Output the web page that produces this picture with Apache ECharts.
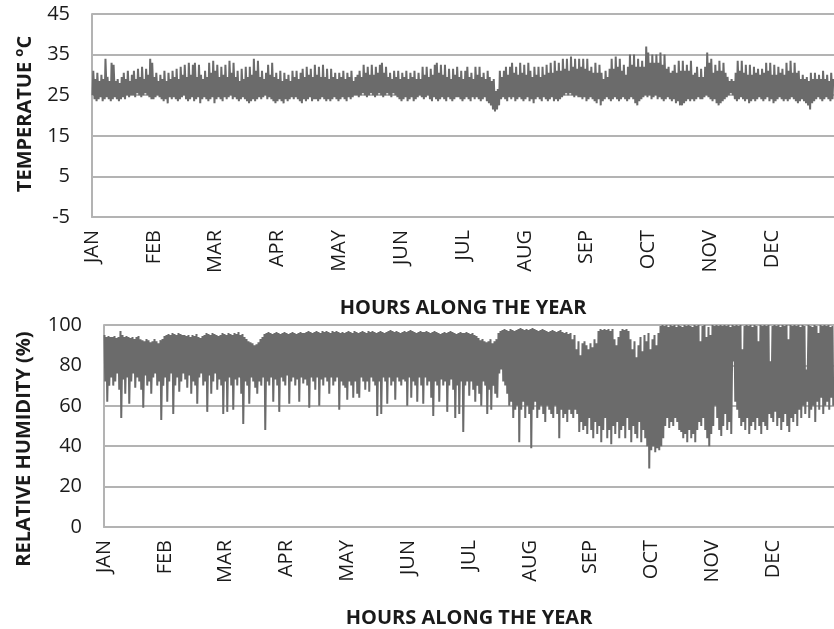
<!DOCTYPE html>
<html>
<head>
<meta charset="utf-8">
<script src="https://cdn.jsdelivr.net/npm/echarts@6/dist/echarts.min.js"></script>
<style>
  html, body { margin: 0; padding: 0; background: #ffffff; }
  #chart { width: 834px; height: 629px; }
</style>
</head>
<body>
<div id="chart"></div>
<script>
// Month tick labels, one every 730 hours
const months = ['JAN', 'FEB', 'MAR', 'APR', 'MAY', 'JUN', 'JUL', 'AUG', 'SEP', 'OCT', 'NOV', 'DEC'];

// Daily maximum air temperature (°C), day 1..365
const tempMax = [
  31, 29, 30.5, 28.5, 30, 29, 34, 29.5, 28.5, 33,
  32.5, 28.5, 29, 28, 29.5, 30.5, 29, 31, 28.5, 30,
  31, 29, 31.5, 29.5, 32, 29, 31.5, 30, 34, 33,
  29.5, 30.5, 28.5, 30, 29, 31, 28.5, 30.5, 29, 31,
  29.5, 31.5, 29, 32, 30, 32.5, 29.5, 33, 30, 32.5,
  33, 29.5, 32.5, 30, 29, 31, 29.5, 33, 30.5, 33.5,
  31, 32.5, 29.5, 32, 30, 32.5, 29.5, 33.5, 30.5, 33,
  29.5, 31, 28.5, 31.5, 29, 32, 29.5, 32, 30, 34,
  31, 33.5, 29.5, 31, 29, 30.5, 32.5, 30, 33, 29.5,
  30.5, 29, 31, 28.5, 30.5, 29, 30, 28.5, 31, 29.5,
  31, 29, 30.5, 31.5, 29.5, 32, 30, 31.5, 29.5, 32.5,
  30, 32, 29.5, 32.5, 29.5, 31.5, 29, 31.5, 29.5, 30.5,
  29, 30.5, 29.5, 31, 29, 30.5, 29.5, 31, 28.5, 29.5,
  30, 31, 29.5, 32.5, 30.5, 32, 30, 32.5, 30, 32,
  30.5, 32.5, 33, 30.5, 32, 29.5, 30.5, 29, 31, 29.5,
  31, 29, 30.5, 29.5, 31, 29, 30.5, 29.5, 31, 29,
  30.5, 29, 32, 30, 32, 29.5, 31.5, 30, 32.5, 33,
  30.5, 32.5, 30, 32.5, 29.5, 31.5, 29, 31.5, 30, 32,
  29.5, 31, 29, 31, 32, 29.5, 30.5, 29, 32, 30,
  32, 29.5, 30.5, 29, 31, 29.5, 28.5, 29, 26, 26.5,
  31, 29.5, 31, 32, 30, 32, 33, 30.5, 32, 30,
  33, 30.5, 32.5, 30, 33, 31, 29.5, 32, 30, 32,
  29.5, 32, 30, 32.5, 30.5, 33, 30.5, 33.5, 31, 33,
  31, 34, 31.5, 34, 31, 34.5, 32, 34, 31.5, 34,
  32, 34, 31.5, 34, 31, 32, 30.5, 33, 30.5, 32.5,
  30.5, 29, 31, 29.5, 31.5, 34, 31.5, 34.5, 32, 34,
  31, 32.5, 30, 32, 35, 32.5, 35, 32, 34, 32,
  33.5, 32, 37, 35.5, 33, 35, 33, 35, 33, 35.5,
  32.5, 35, 31.5, 32, 30.5, 31, 32.5, 30.5, 33.5, 31,
  33.5, 31, 32.5, 31, 33.5, 30, 30.5, 32, 29.5, 31.5,
  29.5, 32, 35.5, 33, 34, 30.5, 32.5, 31, 33.5, 31,
  33, 30.5, 29.5, 28.5, 29, 28.5, 30.5, 33.5, 31, 33.5,
  30.5, 32.5, 30, 32.5, 30, 32, 30.5, 31.5, 30, 31.5,
  30.5, 33, 31, 33, 30, 32.5, 30, 32, 30.5, 31.5,
  30, 33, 31, 33.5, 30.5, 33, 30.5, 31, 29, 30,
  29, 29.5, 28.5, 30.5, 29, 30.5, 29, 30, 29, 31,
  29, 30, 28.5, 30.5, 29
];

// Daily minimum air temperature (°C), day 1..365
const tempMin = [
  25, 24, 23.5, 24, 24.5, 23.5, 24, 24.5, 24, 23.5,
  24, 24.5, 24, 23.5, 24, 24.5, 24, 25, 24.5, 25,
  25, 24.5, 25.5, 25, 24.5, 25, 25.5, 25, 24.5, 24,
  24, 24.5, 25, 24.5, 24, 23.5, 24, 23, 24.5, 24,
  24.5, 24, 23.5, 24, 24.5, 25, 24, 23.5, 24, 24.5,
  23.5, 24, 24.5, 23, 24, 24.5, 24, 23.5, 24, 24.5,
  23, 24, 24.5, 24, 23.5, 24.5, 24, 24.5, 25, 24,
  24.5, 24, 23.5, 24, 24.5, 24, 23.5, 23, 23.5, 24,
  23.5, 24, 24.5, 24, 24.5, 25, 24, 24.5, 24, 23.5,
  23, 23.5, 24, 23.5, 23, 24, 23.5, 24, 24.5, 24,
  24.5, 24, 23.5, 23, 24, 23.5, 24, 24.5, 23.5, 24,
  24, 23.5, 24, 24.5, 24, 23.5, 24, 23.5, 24, 24.5,
  24, 23.5, 24, 24.5, 24, 23.5, 24.5, 24, 24.5, 25,
  25, 24.5, 25, 25.5, 25, 24.5, 25, 25.5, 25, 24.5,
  25, 25.5, 25, 24.5, 25, 25.5, 25, 24.5, 25.5, 25,
  24.5, 24, 23.5, 24, 24.5, 23.5, 24, 24.5, 23.5, 24,
  24.5, 25, 24.5, 24, 24.5, 25, 24, 23.5, 24.5, 24,
  23.5, 24, 24.5, 24, 23.5, 24.5, 24, 23.5, 24, 24.5,
  24.5, 24, 23.5, 24, 24.5, 24, 23.5, 24.5, 24, 24.5,
  24, 23.5, 24, 24.5, 23.5, 23, 22.5, 21.5, 21, 21.5,
  22.5, 24, 24.5, 24, 23.5, 24.5, 24, 24.5, 23.5, 24,
  24.5, 24, 23.5, 24, 24.5, 23.5, 24, 23, 24, 24.5,
  24, 23.5, 24.5, 24, 23.5, 24, 24.5, 23.5, 24, 23.5,
  24, 24.5, 25, 25.5, 25, 25.5, 25, 24.5, 25, 24.5,
  24.5, 24, 24.5, 23.5, 24, 24.5, 24, 23.5, 23, 24,
  22.5, 23.5, 24, 24.5, 24, 23.5, 24, 24.5, 24, 23.5,
  24, 24.5, 24, 23.5, 24, 24.5, 24, 23, 22.5, 23.5,
  24, 24.5, 25, 24.5, 25, 24, 24.5, 25, 24, 24.5,
  24, 23.5, 24, 24.5, 24, 23.5, 24, 23, 23.5, 22.5,
  22.5, 23, 23.5, 24, 23.5, 24, 23.5, 24, 24.5, 24,
  24, 24.5, 25, 24.5, 24, 23.5, 24, 23, 22.5, 23,
  23.5, 24, 24.5, 25, 25.5, 25, 24, 23.5, 24, 24.5,
  24, 23.5, 24, 23, 23.5, 24, 23.5, 24, 24.5, 24,
  23.5, 24, 24.5, 23.5, 24, 23, 23.5, 24, 24.5, 24,
  23.5, 24, 23.5, 24, 24.5, 24, 23.5, 23, 23.5, 24,
  23.5, 23, 22.5, 21.5, 23, 23.5, 24, 24.5, 24, 23.5,
  24, 24.5, 24, 23.5, 24
];

// Daily maximum relative humidity (%), day 1..365
const rhMax = [
  95, 94, 94.5, 94, 94, 94.5, 93.5, 94, 97, 95,
  94, 94.5, 94, 93.5, 94, 93, 94, 94.5, 93, 92.5,
  92, 93, 92.5, 91.5, 92, 93, 92, 91, 92.5, 93,
  94.5, 95, 95.5, 95, 96, 95.5, 95, 96, 95.5, 95,
  95, 94.5, 95, 94, 95, 94.5, 95.5, 94, 93.5, 94.5,
  95, 96, 95.5, 95, 96, 95.5, 95, 94.5, 95, 96,
  95.5, 95, 96, 95.5, 95, 96, 95.5, 96.5, 95, 95.5,
  94, 93, 92, 91.5, 91, 90, 90.5, 91.5, 93, 94,
  95.5, 96, 96.5, 96, 95.5, 96, 96.5, 96, 95.5, 96,
  96.5, 96, 95.5, 96, 96.5, 96, 95.5, 96, 96.5, 96,
  96, 96.5, 97, 96.5, 96, 96.5, 97, 96.5, 96, 97,
  96.5, 97, 96.5, 96, 97, 96.5, 97, 96.5, 96, 96.5,
  96, 96.5, 97, 96.5, 96, 97, 96.5, 96, 96.5, 97,
  96.5, 96, 97, 96.5, 97, 96.5, 96, 96.5, 97, 96.5,
  96, 96.5, 97, 97.5, 97, 96.5, 97, 96.5, 96, 96.5,
  97, 96.5, 97, 97.5, 97, 96.5, 96, 96.5, 97, 96.5,
  96.5, 97, 96.5, 96, 96.5, 97, 96.5, 96, 95.5, 96,
  96.5, 96, 96.5, 97, 96.5, 96, 95.5, 96, 96.5, 96,
  96, 96.5, 96, 95.5, 96, 95, 94.5, 93.5, 92.5, 93,
  92, 91.5, 92, 93, 91, 92, 93, 96, 97, 97.5,
  98, 97.5, 97, 98, 97.5, 97, 97.5, 98, 98.5, 98,
  97.5, 98, 97.5, 98, 98.5, 98, 97.5, 97, 97.5, 98,
  97.5, 97, 96.5, 97, 97.5, 97, 96.5, 97, 97.5, 96.5,
  96, 96.5, 95.5, 96, 93, 95, 88, 92, 85, 91,
  92, 90, 88, 91, 89, 93, 91, 97, 98, 97.5,
  98, 97.5, 98, 97, 98, 93, 90, 94, 97, 98,
  97.5, 98, 97, 93, 88, 92, 84, 90, 94, 87,
  95, 92, 96, 88, 93, 95, 90, 96, 99.5, 100,
  99.5, 100, 99, 100, 99.5, 100, 99, 100, 99.5, 99,
  100, 99.5, 100, 99.5, 99, 100, 99.5, 100, 92, 99.5,
  100, 94, 99, 95, 100, 99.5, 100, 99.5, 100, 99.5,
  100, 99.5, 100, 99, 100, 99.5, 100, 99.5, 100, 88,
  99.5, 100, 99.5, 100, 99, 100, 99.5, 92, 100, 99.5,
  100, 99.5, 100, 82, 99.5, 100, 99.5, 100, 99, 100,
  99.5, 100, 93, 100, 99.5, 100, 99.5, 100, 99, 100,
  99.5, 78, 100, 99.5, 99, 100, 99.5, 96, 100, 99.5,
  100, 99.5, 100, 99, 99.5
];

// Daily minimum relative humidity (%), day 1..365
const rhMin = [
  72, 62, 70, 74, 70, 72, 76, 68, 54, 73,
  66, 74, 61, 72, 76, 69, 74, 72, 68, 59,
  75, 70, 72, 66, 74, 76, 70, 72, 53, 70,
  74, 62, 72, 76, 56, 70, 74, 67, 72, 76,
  73, 69, 75, 66, 72, 70, 61, 74, 76, 70,
  72, 57, 75, 66, 72, 76, 68, 73, 70, 56,
  72, 57, 74, 70, 58, 73, 70, 74, 66, 51,
  72, 70, 61, 74, 72, 69, 66, 72, 70, 74,
  48, 72, 70, 74, 62, 73, 70, 57, 74, 72,
  70, 75, 61, 72, 74, 70, 73, 62, 74, 71,
  73, 70, 59, 74, 72, 68, 74, 60, 73, 70,
  74, 72, 66, 74, 70, 72, 74, 58, 72, 70,
  69, 63, 72, 70, 64, 72, 66, 64, 74, 72,
  68, 72, 67, 74, 72, 70, 55, 72, 56, 74,
  72, 61, 74, 70, 72, 63, 74, 72, 70, 73,
  72, 60, 74, 64, 72, 70, 62, 74, 70, 61,
  74, 70, 72, 64, 55, 72, 70, 62, 73, 70,
  72, 57, 70, 73, 68, 54, 70, 56, 72, 47,
  70, 72, 65, 72, 68, 62, 70, 66, 60, 72,
  70, 56, 68, 58, 70, 66, 64, 76, 78, 72,
  70, 66, 60, 62, 54, 58, 60, 42, 58, 62,
  54, 60, 56, 39, 58, 62, 54, 58, 60, 56,
  52, 60, 58, 56, 54, 60, 56, 44, 58, 54,
  56, 52, 58, 56, 54, 58, 56, 47, 52, 48,
  50, 46, 54, 48, 44, 52, 46, 50, 42, 48,
  54, 44, 48, 41, 50, 46, 52, 44, 48, 50,
  44, 54, 48, 42, 50, 46, 44, 52, 42, 48,
  44, 40, 29, 38, 40, 37, 39, 38, 40, 44,
  50, 54, 49, 52, 50, 54, 52, 48, 47, 44,
  46, 42, 48, 44, 46, 42, 48, 52, 50, 54,
  48, 44, 40, 46, 50, 60, 54, 48, 45, 50,
  56, 48, 52, 46, 82, 62, 58, 54, 50, 52,
  48, 54, 46, 50, 52, 48, 54, 50, 46, 52,
  50, 48, 56, 54, 52, 57, 50, 54, 48, 52,
  56, 50, 47, 54, 52, 56, 50, 58, 54, 60,
  56, 62, 54, 58, 60, 52, 62, 58, 64, 56,
  60, 62, 58, 64, 60
];

const HOURS_PER_DAY = 24;
const HOURS_PER_YEAR = 8760;
const HOURS_PER_LABEL = 730;

// Interleave the daily extremes into an hourly [hour, value] series
function dailySeries(first, second, firstHour, secondHour) {
  const out = [];
  for (let d = 0; d < first.length; d++) {
    out.push([d * HOURS_PER_DAY + firstHour, first[d]]);
    out.push([d * HOURS_PER_DAY + secondHour, second[d]]);
  }
  return out;
}

// Temperature bottoms out near dawn and peaks mid-afternoon; humidity does the opposite
const tempSeries = dailySeries(tempMin, tempMax, 6, 15);
const rhSeries = dailySeries(rhMax, rhMin, 6, 15);

const FONT = '"Open Sans", "DejaVu Sans", sans-serif';
const GRID_COLOR = '#b3b3b3';
const LINE_COLOR = '#6b6b6b';
const TEXT_COLOR = '#1a1a1a';

function xAxisFor(gridIndex) {
  return {
    type: 'value',
    gridIndex: gridIndex,
    min: 0,
    max: HOURS_PER_YEAR,
    interval: HOURS_PER_LABEL,
    name: 'HOURS ALONG THE YEAR',
    nameLocation: 'middle',
    nameGap: 81,
    nameTextStyle: { fontFamily: FONT, fontWeight: 'bold', fontSize: 20, color: TEXT_COLOR },
    axisLine: { show: true, onZero: false, lineStyle: { color: GRID_COLOR, width: 2 } },
    axisTick: { show: false },
    splitLine: { show: false },
    axisLabel: {
      rotate: 90,
      margin: 13,
      fontFamily: FONT,
      fontSize: 20,
      color: TEXT_COLOR,
      showMaxLabel: false,
      formatter: function (v) {
        const i = Math.round(v / HOURS_PER_LABEL);
        return i < months.length ? months[i] : '';
      }
    }
  };
}

function yAxisFor(gridIndex, min, max, interval) {
  return {
    type: 'value',
    gridIndex: gridIndex,
    min: min,
    max: max,
    interval: interval,
    axisLine: { show: true, onZero: false, lineStyle: { color: GRID_COLOR, width: 2 } },
    axisTick: { show: false },
    splitLine: { show: true, lineStyle: { color: GRID_COLOR, width: 2 } },
    axisLabel: { margin: 22, fontFamily: FONT, fontSize: 20, color: TEXT_COLOR }
  };
}

const chart = echarts.init(document.getElementById('chart'), null, { renderer: 'canvas' });

chart.setOption({
  animation: false,
  backgroundColor: '#ffffff',
  grid: [
    { left: 92, top: 14, width: 750, height: 203 },
    { left: 104, top: 325, width: 737.5, height: 203 }
  ],
  xAxis: [xAxisFor(0), xAxisFor(1)],
  yAxis: [yAxisFor(0, -5, 45, 10), yAxisFor(1, 0, 100, 20)],
  graphic: [
    {
      type: 'text',
      x: 25,
      y: 114,
      rotation: Math.PI / 2,
      style: {
        text: 'TEMPERATUE {sup|o}C',
        font: 'bold 20px ' + FONT,
        fill: TEXT_COLOR,
        align: 'center',
        verticalAlign: 'middle',
        textAlign: 'center',
        textVerticalAlign: 'middle',
        rich: {
          sup: { fontSize: 13, fontWeight: 'bold', fontFamily: FONT, fill: TEXT_COLOR, verticalAlign: 'top', lineHeight: 24 }
        }
      }
    },
    {
      type: 'text',
      x: 24,
      y: 449,
      rotation: Math.PI / 2,
      style: {
        text: 'RELATIVE HUMIDITY (%)',
        font: 'bold 20px ' + FONT,
        fill: TEXT_COLOR,
        align: 'center',
        verticalAlign: 'middle',
        textAlign: 'center',
        textVerticalAlign: 'middle'
      }
    }
  ],
  series: [
    {
      type: 'line',
      xAxisIndex: 0,
      yAxisIndex: 0,
      data: tempSeries,
      showSymbol: false,
      lineStyle: { color: LINE_COLOR, width: 2 },
      silent: true
    },
    {
      type: 'line',
      xAxisIndex: 1,
      yAxisIndex: 1,
      data: rhSeries,
      showSymbol: false,
      lineStyle: { color: LINE_COLOR, width: 2 },
      silent: true
    }
  ]
});
</script>
</body>
</html>
